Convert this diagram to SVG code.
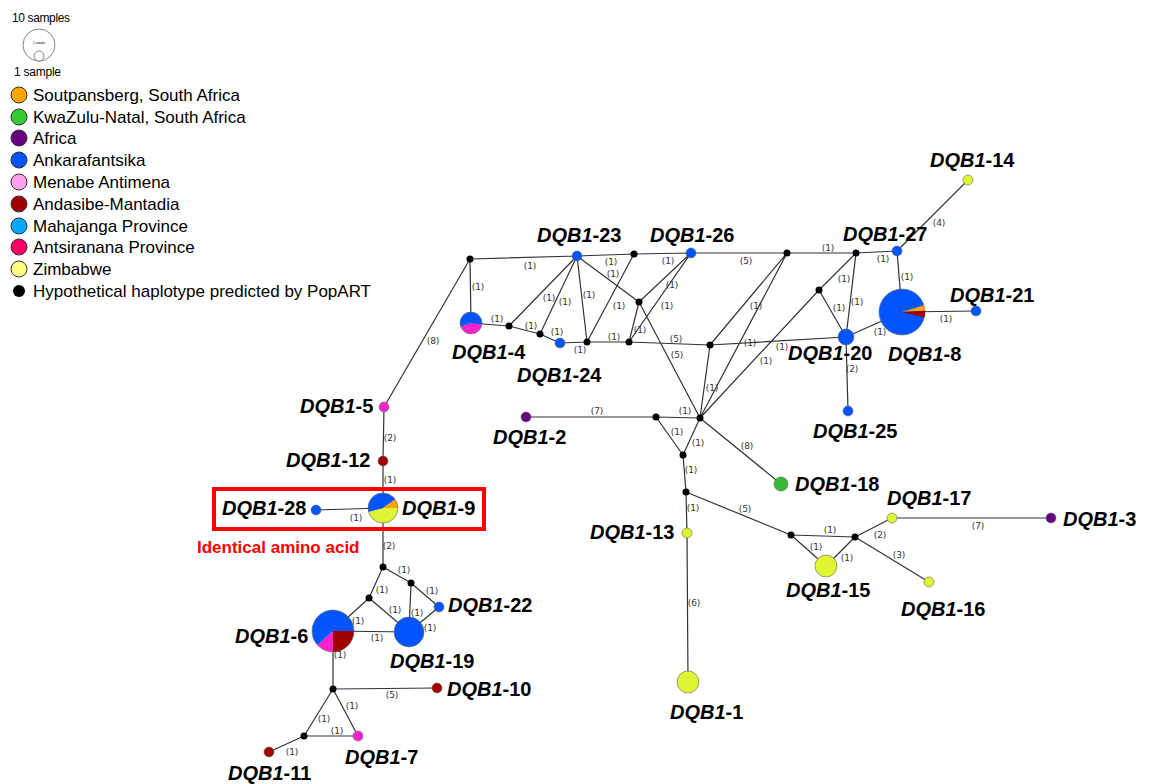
<svg xmlns="http://www.w3.org/2000/svg" width="1154" height="784" viewBox="0 0 1154 784">
<style>
.e{stroke:#333;stroke-width:1.2;fill:none}
.el{font-family:"DejaVu Sans",sans-serif;font-size:9px;fill:#333;text-anchor:middle;dominant-baseline:central}
.h{fill:#000}
.n{stroke:#666;stroke-width:0.6}
.lb{font-family:"Liberation Sans",Arial,sans-serif;font-size:20px;font-weight:bold;fill:#000}
.it{font-style:italic}
.lg{font-family:"Liberation Sans",Arial,sans-serif;font-size:17px;fill:#000}
.lc{stroke:#333;stroke-width:1}
.bl{fill:#0055FF}.mg{fill:#FF22CC}.dr{fill:#A00000}.yg{fill:#DDF533}.pu{fill:#660080}.gr{fill:#33BB33}.or{fill:#FFA500}
</style>
<rect width="1154" height="784" fill="#fff"/>
<g id="legend">
<text x="12" y="22" font-family="Liberation Sans,Arial,sans-serif" font-size="12" textLength="58">10 samples</text>
<circle cx="39" cy="45" r="16" fill="#fff" stroke="#666" stroke-width="0.8"/>
<circle cx="39" cy="56" r="5" fill="#fff" stroke="#666" stroke-width="0.8"/>
<text x="39" y="44" font-family="Liberation Sans,Arial,sans-serif" font-size="3" text-anchor="middle">1 sample</text>
<text x="14" y="76" font-family="Liberation Sans,Arial,sans-serif" font-size="12" textLength="47">1 sample</text>
<circle class="lc" cx="19" cy="95" r="8" fill="#FFA500"/><text class="lg" x="33" y="101">Soutpansberg, South Africa</text>
<circle class="lc" cx="19" cy="117" r="8" fill="#33CC33"/><text class="lg" x="33" y="123">KwaZulu-Natal, South Africa</text>
<circle class="lc" cx="19" cy="138" r="8" fill="#660080"/><text class="lg" x="33" y="144">Africa</text>
<circle class="lc" cx="19" cy="160" r="8" fill="#0055FF"/><text class="lg" x="33" y="166">Ankarafantsika</text>
<circle class="lc" cx="19" cy="182" r="8" fill="#FFA0F0"/><text class="lg" x="33" y="188">Menabe Antimena</text>
<circle class="lc" cx="19" cy="204" r="8" fill="#A00000"/><text class="lg" x="33" y="210">Andasibe-Mantadia</text>
<circle class="lc" cx="19" cy="226" r="8" fill="#00AAFF"/><text class="lg" x="33" y="232">Mahajanga Province</text>
<circle class="lc" cx="19" cy="247" r="8" fill="#FF0066"/><text class="lg" x="33" y="253">Antsiranana Province</text>
<circle class="lc" cx="19" cy="269" r="8" fill="#FFFF80"/><text class="lg" x="33" y="275">Zimbabwe</text>
<circle cx="19" cy="291" r="6" fill="#000"/><text class="lg" x="33" y="297">Hypothetical haplotype predicted by PopART</text>
</g>
<g id="connectors">
<path class="e" d="M470,259L577,256 M470,259L471,323 M470,259L384,407 M471,323L509,326 M509,326L577,256 M509,326L540,334 M540,334L577,256 M540,334L560,343 M560,343L587,342 M587,342L577,256 M587,342L634,254 M587,342L629,342 M577,256L634,254 M577,256L639,302 M634,254L691,253 M691,253L639,302 M691,253L629,342 M639,302L629,342 M639,302L700,418 M629,342L710,345 M691,253L787,253 M787,253L856,253 M856,253L897,251 M897,251L968,180 M897,251L902,312 M902,312L976,311 M902,312L846,337 M856,253L846,337 M856,253L819,290 M819,290L846,337 M819,290L700,418 M787,253L710,345 M787,253L700,418 M710,345L846,337 M710,345L700,418 M846,337L848,411 M526,417L656,417 M656,417L700,418 M656,417L683,455 M700,418L683,455 M683,455L686,492 M686,492L687,533 M687,533L688,682 M700,418L781,484 M686,492L791,535 M791,535L855,537 M791,535L826,566 M855,537L826,566 M855,537L892,518 M892,518L1051,518 M855,537L929,582 M384,407L383,461 M383,461L383,508 M383,508L316,510 M383,508L383,567 M383,567L411,583 M383,567L369,598 M411,583L439,607 M411,583L409,632 M369,598L409,632 M369,598L333,631 M439,607L409,632 M333,631L409,632 M333,631L333,689 M333,689L437,688 M333,689L304,736 M333,689L358,736 M304,736L358,736 M304,736L269,752"/>
<g>
<text class="el" x="530" y="266">(1)</text><text class="el" x="478" y="287">(1)</text><text class="el" x="433" y="341">(8)</text>
<text class="el" x="497" y="319">(1)</text><text class="el" x="549" y="298">(1)</text><text class="el" x="565" y="302">(1)</text>
<text class="el" x="531" y="326">(1)</text><text class="el" x="557" y="332">(1)</text><text class="el" x="580" y="350">(1)</text>
<text class="el" x="589" y="295">(1)</text><text class="el" x="619" y="306">(1)</text><text class="el" x="614" y="337">(1)</text>
<text class="el" x="611" y="262">(1)</text><text class="el" x="613" y="274">(1)</text><text class="el" x="668" y="261">(1)</text>
<text class="el" x="672" y="285">(1)</text><text class="el" x="667" y="306">(1)</text><text class="el" x="640" y="330">(1)</text>
<text class="el" x="677" y="355">(5)</text><text class="el" x="676" y="339">(5)</text><text class="el" x="746" y="261">(5)</text>
<text class="el" x="828" y="248">(1)</text><text class="el" x="883" y="259">(1)</text><text class="el" x="939" y="223">(4)</text>
<text class="el" x="907" y="277">(1)</text><text class="el" x="946" y="319">(1)</text><text class="el" x="880" y="332">(1)</text>
<text class="el" x="857" y="302">(1)</text><text class="el" x="844" y="279">(1)</text><text class="el" x="839" y="308">(1)</text>
<text class="el" x="766" y="361">(1)</text><text class="el" x="756" y="306">(1)</text><text class="el" x="750" y="343">(1)</text>
<text class="el" x="782" y="347">(1)</text><text class="el" x="712" y="388">(1)</text><text class="el" x="852" y="369">(2)</text>
<text class="el" x="597" y="411">(7)</text><text class="el" x="685" y="411">(1)</text><text class="el" x="677" y="432">(1)</text>
<text class="el" x="698" y="443">(1)</text><text class="el" x="691" y="470">(1)</text><text class="el" x="693" y="508">(1)</text>
<text class="el" x="694" y="603">(6)</text><text class="el" x="747" y="446">(8)</text><text class="el" x="745" y="509">(5)</text>
<text class="el" x="830" y="530">(1)</text><text class="el" x="816" y="547">(1)</text><text class="el" x="847" y="558">(1)</text>
<text class="el" x="880" y="535">(2)</text><text class="el" x="978" y="526">(7)</text><text class="el" x="899" y="555">(3)</text>
<text class="el" x="390" y="438">(2)</text><text class="el" x="390" y="480">(1)</text><text class="el" x="356" y="518">(1)</text>
<text class="el" x="389" y="546">(2)</text><text class="el" x="404" y="570">(1)</text><text class="el" x="382" y="590">(1)</text>
<text class="el" x="432" y="591">(1)</text><text class="el" x="417" y="613">(1)</text><text class="el" x="395" y="610">(1)</text>
<text class="el" x="358" y="621">(1)</text><text class="el" x="430" y="628">(1)</text><text class="el" x="377" y="638">(1)</text>
<text class="el" x="340" y="655">(1)</text><text class="el" x="392" y="695">(5)</text><text class="el" x="324" y="719">(1)</text>
<text class="el" x="352" y="706">(1)</text><text class="el" x="337" y="731">(1)</text><text class="el" x="292" y="752">(1)</text>
</g>
</g>
<g id="hypothetical">
<circle class="h" cx="470" cy="259" r="3.5"/><circle class="h" cx="634" cy="254" r="3.5"/><circle class="h" cx="787" cy="253" r="3.5"/>
<circle class="h" cx="856" cy="253" r="3.5"/><circle class="h" cx="819" cy="290" r="3.5"/><circle class="h" cx="710" cy="345" r="3.5"/>
<circle class="h" cx="700" cy="418" r="3.5"/><circle class="h" cx="509" cy="326" r="3.5"/><circle class="h" cx="540" cy="334" r="3.5"/>
<circle class="h" cx="587" cy="342" r="3.5"/><circle class="h" cx="629" cy="342" r="3.5"/><circle class="h" cx="639" cy="302" r="3.5"/>
<circle class="h" cx="656" cy="417" r="3.5"/><circle class="h" cx="683" cy="455" r="3.5"/><circle class="h" cx="686" cy="492" r="3.5"/>
<circle class="h" cx="791" cy="535" r="3.5"/><circle class="h" cx="855" cy="537" r="3.5"/><circle class="h" cx="383" cy="567" r="3.5"/>
<circle class="h" cx="411" cy="583" r="3.5"/><circle class="h" cx="369" cy="598" r="3.5"/><circle class="h" cx="333" cy="689" r="3.5"/>
<circle class="h" cx="304" cy="736" r="3.5"/>
</g>
<g id="DQB1-1"><circle class="n yg" cx="688" cy="682" r="11"/><text class="lb" x="670" y="719"><tspan class="it">DQB1</tspan>-1</text></g>
<g id="DQB1-2"><circle class="n pu" cx="526" cy="417" r="5"/><text class="lb" x="493" y="444"><tspan class="it">DQB1</tspan>-2</text></g>
<g id="DQB1-3"><circle class="n pu" cx="1051" cy="518" r="5"/><text class="lb" x="1063" y="526"><tspan class="it">DQB1</tspan>-3</text></g>
<g id="DQB1-4"><path class="mg" d="M471,323L481.9,324.3A11,11 0 0 1 460.8,327.1Z"/><path class="bl" d="M471,323L460.8,327.1A11,11 0 1 1 481.9,324.3Z"/><circle cx="471" cy="323" r="11" fill="none" class="n"/><text class="lb" x="452" y="359"><tspan class="it">DQB1</tspan>-4</text></g>
<g id="DQB1-5"><circle class="n mg" cx="384" cy="407" r="5"/><text class="lb" x="300" y="413"><tspan class="it">DQB1</tspan>-5</text></g>
<g id="DQB1-6"><path class="dr" d="M333,631L354,631A21,21 0 0 1 333,652Z"/><path class="mg" d="M333,631L333,652A21,21 0 0 1 317.6,645.3Z"/><path class="bl" d="M333,631L317.6,645.3A21,21 0 1 1 354,631Z"/><circle cx="333" cy="631" r="21" fill="none" class="n"/><text class="lb" x="235" y="643"><tspan class="it">DQB1</tspan>-6</text></g>
<g id="DQB1-7"><circle class="n mg" cx="358" cy="736" r="5"/><text class="lb" x="345" y="764"><tspan class="it">DQB1</tspan>-7</text></g>
<g id="DQB1-8"><circle class="n bl" cx="902" cy="312" r="23"/><path class="or" d="M902,312L924,305.3A23,23 0 0 1 925,310.8Z"/><path class="dr" d="M902,312L925,310.8A23,23 0 0 1 924.3,317.6Z"/><text class="lb" x="888" y="361"><tspan class="it">DQB1</tspan>-8</text></g>
<g id="DQB1-9"><path class="yg" d="M383,508L398,508A15,15 0 0 1 368.5,511.9Z"/><path class="bl" d="M383,508L368.5,511.9A15,15 0 0 1 395.3,499.4Z"/><path class="or" d="M383,508L395.3,499.4A15,15 0 0 1 398,508Z"/><circle cx="383" cy="508" r="15" fill="none" class="n"/><text class="lb" x="402" y="515"><tspan class="it">DQB1</tspan>-9</text></g>
<g id="DQB1-10"><circle class="n dr" cx="437" cy="688" r="5"/><text class="lb" x="447" y="696"><tspan class="it">DQB1</tspan>-10</text></g>
<g id="DQB1-11"><circle class="n dr" cx="269" cy="752" r="5"/><text class="lb" x="228" y="780"><tspan class="it">DQB1</tspan>-11</text></g>
<g id="DQB1-12"><circle class="n dr" cx="383" cy="461" r="5"/><text class="lb" x="286" y="467"><tspan class="it">DQB1</tspan>-12</text></g>
<g id="DQB1-13"><circle class="n yg" cx="687" cy="533" r="5"/><text class="lb" x="590" y="539"><tspan class="it">DQB1</tspan>-13</text></g>
<g id="DQB1-14"><circle class="n yg" cx="968" cy="180" r="5"/><text class="lb" x="930" y="167"><tspan class="it">DQB1</tspan>-14</text></g>
<g id="DQB1-15"><circle class="n yg" cx="826" cy="566" r="11"/><text class="lb" x="786" y="597"><tspan class="it">DQB1</tspan>-15</text></g>
<g id="DQB1-16"><circle class="n yg" cx="929" cy="582" r="5"/><text class="lb" x="901" y="616"><tspan class="it">DQB1</tspan>-16</text></g>
<g id="DQB1-17"><circle class="n yg" cx="892" cy="518" r="5"/><text class="lb" x="887" y="505"><tspan class="it">DQB1</tspan>-17</text></g>
<g id="DQB1-18"><circle class="n gr" cx="781" cy="484" r="7"/><text class="lb" x="795" y="491"><tspan class="it">DQB1</tspan>-18</text></g>
<g id="DQB1-19"><circle class="n bl" cx="409" cy="632" r="15"/><text class="lb" x="390" y="668"><tspan class="it">DQB1</tspan>-19</text></g>
<g id="DQB1-20"><circle class="n bl" cx="846" cy="337" r="8"/><text class="lb" x="788" y="360"><tspan class="it">DQB1</tspan>-20</text></g>
<g id="DQB1-21"><circle class="n bl" cx="976" cy="311" r="5"/><text class="lb" x="950" y="302"><tspan class="it">DQB1</tspan>-21</text></g>
<g id="DQB1-22"><circle class="n bl" cx="439" cy="607" r="5"/><text class="lb" x="448" y="612"><tspan class="it">DQB1</tspan>-22</text></g>
<g id="DQB1-23"><circle class="n bl" cx="577" cy="256" r="5"/><text class="lb" x="537" y="242"><tspan class="it">DQB1</tspan>-23</text></g>
<g id="DQB1-24"><circle class="n bl" cx="560" cy="343" r="5"/><text class="lb" x="517" y="382"><tspan class="it">DQB1</tspan>-24</text></g>
<g id="DQB1-25"><circle class="n bl" cx="848" cy="411" r="5"/><text class="lb" x="813" y="438"><tspan class="it">DQB1</tspan>-25</text></g>
<g id="DQB1-26"><circle class="n bl" cx="691" cy="253" r="5"/><text class="lb" x="650" y="242"><tspan class="it">DQB1</tspan>-26</text></g>
<g id="DQB1-27"><circle class="n bl" cx="897" cy="251" r="5"/><text class="lb" x="843" y="241"><tspan class="it">DQB1</tspan>-27</text></g>
<g id="DQB1-28"><circle class="n bl" cx="316" cy="510" r="5"/><text class="lb" x="222" y="515"><tspan class="it">DQB1</tspan>-28</text></g>
<g id="highlight">
<rect x="214" y="489" width="270" height="40" fill="none" stroke="#FF0000" stroke-width="4"/>
<text x="197" y="553" font-family="Liberation Sans,Arial,sans-serif" font-size="17" font-weight="bold" fill="#FF0000">Identical amino acid</text>
</g>
</svg>
